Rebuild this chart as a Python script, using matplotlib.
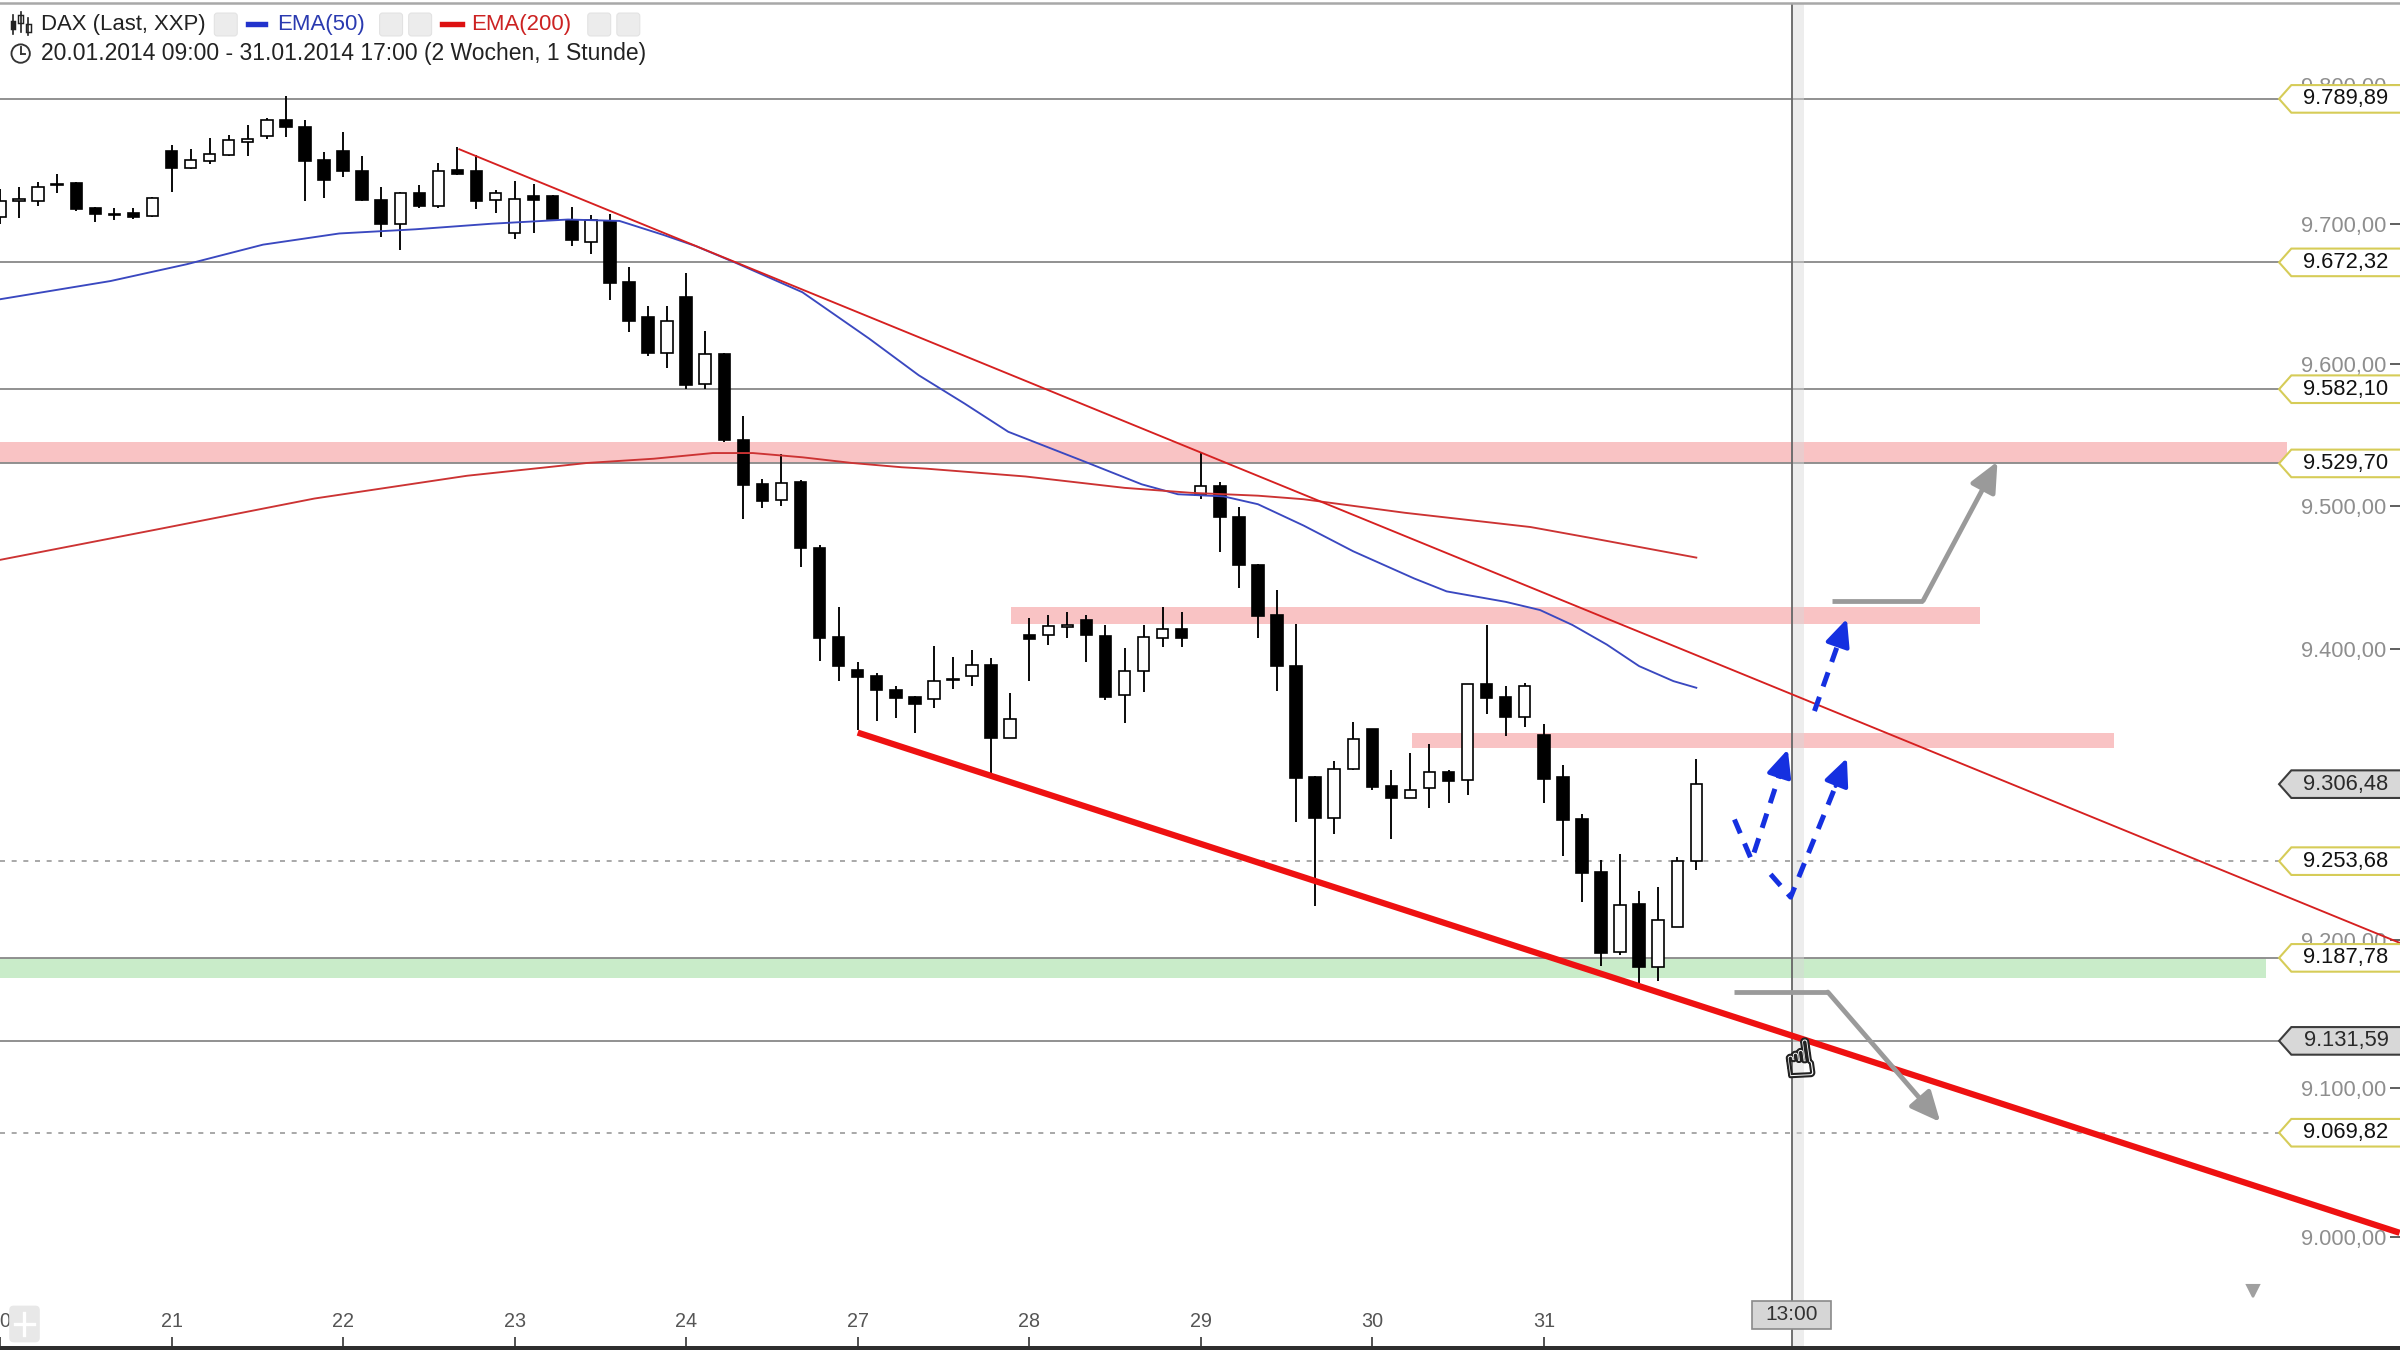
import numpy as np
import matplotlib
matplotlib.use("Agg")
import matplotlib.pyplot as plt
from matplotlib.patches import Polygon, Rectangle, FancyBboxPatch, Circle
from matplotlib.lines import Line2D
from matplotlib.transforms import blended_transform_factory
from matplotlib.ticker import FixedLocator, FuncFormatter, NullLocator
import matplotlib.patheffects as pe

plt.rcParams['font.family'] = ['Liberation Sans', 'DejaVu Sans']

# ---------------- texts ----------------
title_main = "DAX (Last, XXP)"
legend_ema50 = "EMA(50)"
legend_ema200 = "EMA(200)"
period_text = "20.01.2014 09:00 - 31.01.2014 17:00 (2 Wochen, 1 Stunde)"
cursor_label = "13:00"

# ---------------- data ----------------
day_labels = ['20', '21', '22', '23', '24', '27', '28', '29', '30', '31']
bars_per_day = 9

opens = [9705.0, 9716.6, 9716.0, 9727.5, 9729.2, 9711.3, 9706.9, 9707.8, 9705.5,
         9752.6, 9740.3, 9745.4, 9749.6, 9758.5, 9763.0, 9774.6, 9769.7, 9745.6,
         9752.6, 9738.0, 9717.1, 9699.7, 9722.2, 9712.5, 9738.4, 9737.5, 9717.1,
         9693.5, 9719.9, 9719.9, 9702.7, 9687.0, 9702.0, 9658.1, 9633.1, 9608.1,
         9647.4, 9585.6, 9607.0, 9545.9, 9515.0, 9504.0, 9516.6, 9470.3, 9408.0,
         9385.2, 9381.1, 9371.6, 9366.7, 9365.0, 9378.5, 9381.2, 9388.8, 9338.3,
         9409.4, 9409.4, 9415.0, 9420.2, 9408.7, 9368.1, 9384.9, 9407.8, 9414.0,
         9507.2, 9514.1, 9491.9, 9458.7, 9423.8, 9388.3, 9311.1, 9283.5, 9316.8,
         9344.3, 9305.3, 9297.3, 9303.7, 9314.5, 9309.2, 9375.3, 9366.6, 9352.8,
         9340.4, 9311.1, 9282.4, 9246.3, 9191.7, 9224.3, 9181.4, 9208.9, 9254.1]
highs = [9725.0, 9726.4, 9729.9, 9735.7, 9729.9, 9711.8, 9711.3, 9711.3, 9719.4,
         9756.5, 9753.7, 9761.6, 9763.5, 9770.9, 9776.2, 9792.0, 9774.6, 9751.4,
         9765.8, 9748.4, 9726.4, 9722.9, 9727.5, 9743.8, 9755.4, 9749.6, 9724.5,
         9731.0, 9728.7, 9720.5, 9712.0, 9706.5, 9706.8, 9668.8, 9641.0, 9641.0,
         9664.7, 9623.1, 9607.5, 9563.0, 9519.0, 9536.3, 9518.3, 9472.6, 9429.4,
         9390.6, 9383.5, 9374.0, 9367.5, 9402.0, 9394.0, 9399.5, 9393.3, 9369.7,
         9421.5, 9423.8, 9425.4, 9423.8, 9416.3, 9400.9, 9416.3, 9429.3, 9425.4,
         9537.0, 9516.4, 9498.8, 9459.0, 9440.8, 9417.0, 9312.2, 9322.5, 9349.6,
         9344.8, 9316.1, 9327.6, 9334.0, 9316.1, 9375.5, 9416.6, 9374.2, 9376.5,
         9348.2, 9319.8, 9285.8, 9254.8, 9258.3, 9233.0, 9235.8, 9256.4, 9323.7]
lows = [9700.0, 9704.4, 9712.9, 9721.8, 9709.0, 9700.9, 9702.7, 9703.7, 9704.8,
        9722.9, 9739.1, 9742.6, 9748.4, 9748.4, 9761.1, 9762.3, 9716.6, 9718.3,
        9733.3, 9716.6, 9690.5, 9681.2, 9711.3, 9711.3, 9735.0, 9710.2, 9707.9,
        9689.3, 9693.5, 9703.2, 9684.2, 9678.0, 9645.7, 9622.4, 9605.3, 9597.4,
        9582.5, 9582.5, 9545.1, 9490.5, 9498.3, 9500.0, 9457.2, 9391.3, 9378.0,
        9344.0, 9350.0, 9352.0, 9342.0, 9359.0, 9372.0, 9374.3, 9313.1, 9338.0,
        9378.0, 9402.5, 9407.8, 9391.0, 9364.2, 9348.6, 9370.4, 9401.4, 9401.4,
        9504.5, 9467.4, 9442.6, 9407.8, 9371.0, 9280.5, 9223.4, 9272.5, 9316.5,
        9302.3, 9268.6, 9297.0, 9290.4, 9293.2, 9299.1, 9355.1, 9339.7, 9345.9,
        9293.2, 9257.1, 9226.1, 9182.1, 9189.4, 9166.5, 9172.2, 9208.5, 9247.9]
closes = [9716.0, 9716.9, 9726.4, 9728.5, 9710.2, 9706.7, 9706.5, 9705.1, 9718.3,
          9740.3, 9745.6, 9750.0, 9760.0, 9760.8, 9774.6, 9769.3, 9745.4, 9731.5,
          9737.5, 9717.1, 9699.7, 9722.2, 9712.5, 9738.0, 9735.7, 9716.6, 9722.2,
          9717.6, 9717.1, 9703.7, 9688.1, 9702.5, 9657.3, 9630.7, 9607.7, 9630.7,
          9584.8, 9607.0, 9546.3, 9514.3, 9503.5, 9515.9, 9470.3, 9407.3, 9388.3,
          9380.4, 9371.6, 9366.2, 9362.1, 9378.0, 9378.2, 9388.8, 9338.3, 9351.4,
          9406.6, 9415.6, 9416.5, 9409.4, 9366.5, 9384.9, 9408.2, 9414.0, 9407.8,
          9513.7, 9491.9, 9458.2, 9423.1, 9388.0, 9310.7, 9283.1, 9316.8, 9337.5,
          9304.6, 9297.3, 9302.6, 9314.5, 9308.8, 9375.3, 9365.7, 9352.8, 9374.2,
          9309.9, 9281.7, 9245.6, 9191.3, 9223.8, 9181.4, 9213.5, 9253.7, 9306.48]

ema50_x = [0.0, 5.8, 9.8, 13.8, 17.8, 21.8, 25.8, 29.8, 32.5, 34.8, 36.5, 38.6,
           42.1, 45.6, 48.2, 50.6, 52.9, 56.9, 59.9, 61.8, 64.2, 66.0, 68.4, 71.0,
           74.2, 75.9, 79.0, 80.8, 82.5, 84.3, 86.0, 87.8, 89.0]
ema50_y = [9646, 9659, 9671, 9685, 9693, 9696, 9700, 9703, 9702, 9692, 9684, 9672,
           9651, 9618, 9592, 9572, 9552, 9531, 9515, 9508, 9506.5, 9501, 9486, 9468,
           9449, 9440, 9432.7, 9427, 9416.6, 9403, 9388, 9377.6, 9373]

ema200_x = [0.0, 8.5, 16.5, 24.5, 30.8, 34.3, 37.4, 39.5, 42.1, 44.7, 47.3, 48.6,
            53.8, 59.0, 62.5, 66.0, 68.4, 73.7, 80.3, 83.6, 89.0]
ema200_y = [9462, 9484, 9505, 9521, 9530, 9533, 9537, 9537, 9534, 9530, 9527, 9526,
            9520.5, 9512.5, 9509, 9507, 9504.5, 9495, 9485, 9477, 9463.6]

trend_upper_x = [24.1, 125.9]
trend_upper_y = [9753.5, 9198.0]
trend_lower_x = [45.0, 125.9]
trend_lower_y = [9342.0, 9003.0]

callout_values = [9789.89, 9672.32, 9582.10, 9529.70, 9306.48, 9253.68, 9187.78, 9131.59, 9069.82]
callout_gray = [False, False, False, False, True, False, False, True, False]
callout_line = ['-', '-', '-', '-', '', ':', '-', '-', ':']

price_ticks = [9000, 9100, 9200, 9400, 9500, 9600, 9700, 9800]

zone_x0 = [-1.0, 53.06, 74.1, -1.0]
zone_x1 = [120.0, 103.9, 110.9, 118.9]
zone_lo = [9529.7, 9417.0, 9331.3, 9173.8]
zone_hi = [9544.6, 9429.3, 9341.4, 9187.8]
zone_col = ['#f9c3c4', '#f9c3c4', '#f9c3c4', '#c9ecc9']

cursor_x = 94.0
hand_x, hand_y = 94.45, 9117.0

gray_up_x = [96.1, 100.9, 104.8]
gray_up_y = [9433.5, 9433.5, 9531.0]
gray_dn_x = [91.0, 95.9, 101.8]
gray_dn_y = [9164.6, 9164.6, 9077.0]
blue_paths_x = [[91.0, 91.9, 93.8], [92.9, 93.95, 96.9], [95.2, 96.9]]
blue_paths_y = [[9282.2, 9254.4, 9330.4], [9244.7, 9229.1, 9324.4], [9356.9, 9420.9]]


def de_fmt(v, pos=None):
    s = f"{v:,.2f}"
    return s.replace(',', 'X').replace('.', ',').replace('X', '.')


# ---------------- figure ----------------
fig = plt.figure(figsize=(16, 9), dpi=150)
fig.patch.set_facecolor('white')
ax = fig.add_axes([0, 4 / 1350, 1, (1350 - 4 - 3) / 1350])
ax.set_facecolor('white')
ax.set_yscale('log')
ax.set_xlim(0.48, 125.92)
ax.set_ylim(8928.0, 9859.5)

for s in ['left', 'right', 'bottom']:
    ax.spines[s].set_visible(False)
ax.spines['top'].set_color('#a8a8a8')
ax.spines['top'].set_linewidth(1.2)

# x ticks (days)
n = len(closes)
idx = np.arange(n)
day_pos = [k * bars_per_day for k in range(len(day_labels))]
ax.set_xticks(day_pos)
ax.set_xticklabels(day_labels)
ax.xaxis.set_minor_locator(NullLocator())
ax.tick_params(axis='x', direction='in', length=4.3, width=0.8, color='#333333',
               pad=-16.5, labelsize=9.5, labelcolor='#555555')

# y ticks (prices) on the right, labels inside
ax.yaxis.tick_right()
ax.yaxis.set_major_locator(FixedLocator(price_ticks))
ax.yaxis.set_minor_locator(NullLocator())
ax.yaxis.set_major_formatter(FuncFormatter(de_fmt))
ax.tick_params(axis='y', which='both', left=False)
ax.tick_params(axis='y', direction='in', length=5, width=0.8, color='#444444',
               pad=-6.5, labelsize=10.5, labelcolor='#8e8e8e')
plt.setp(ax.get_yticklabels(), ha='right')

trans_ax_data = blended_transform_factory(ax.transAxes, ax.transData)
trans_data_ax = blended_transform_factory(ax.transData, ax.transAxes)

# zones
for x0, x1, lo, hi, c in zip(zone_x0, zone_x1, zone_lo, zone_hi, zone_col):
    ax.fill_between([x0, x1], [lo, lo], [hi, hi], color=c, lw=0, zorder=1)

# horizontal levels
tip = 1489 / 1568
for v, ls in zip(callout_values, callout_line):
    if ls == '-':
        ax.axhline(v, xmin=0, xmax=tip, color='#8c8c8c', lw=0.9, zorder=1.5)
    elif ls == ':':
        ax.axhline(v, xmin=0, xmax=tip, color='#9a9a9a', lw=0.8,
                   linestyle=(0, (3, 4)), zorder=1.5)

# crosshair
ax.axvspan(cursor_x, cursor_x + 0.65, color='#d8d8d8', alpha=0.45, lw=0, zorder=2)
ax.axvline(cursor_x, color='#6a6a6a', lw=0.9, zorder=2.1)

# candles
o = np.array(opens); c = np.array(closes); h = np.array(highs); l = np.array(lows)
ax.vlines(idx, l, h, color='black', lw=0.9, zorder=3)
body_lo = np.minimum(o, c)
body_h = np.maximum(np.abs(c - o), 0.8)
colors = ['white' if cc >= oo else 'black' for oo, cc in zip(o, c)]
ax.bar(idx, body_h, bottom=body_lo, width=0.6, color=colors, edgecolor='black',
       linewidth=0.8, zorder=4)

# EMAs
ax.plot(ema50_x, ema50_y, color='#3a48c0', lw=0.9, zorder=5)
ax.plot(ema200_x, ema200_y, color='#cc3333', lw=0.9, zorder=5)

# trend lines
ax.plot(trend_upper_x, trend_upper_y, color='#d62020', lw=0.9, zorder=5)
ax.plot(trend_lower_x, trend_lower_y, color='#ee1111', lw=3.0, zorder=5,
        solid_capstyle='butt')

# gray scenario arrows
for xs, ys in [(gray_up_x, gray_up_y), (gray_dn_x, gray_dn_y)]:
    ax.plot(xs[:2], ys[:2], color='#9a9a9a', lw=2.3, zorder=6, solid_capstyle='butt')
    ax.annotate('', xy=(xs[2], ys[2]), xytext=(xs[1], ys[1]),
                arrowprops=dict(arrowstyle='-|>,head_length=1.2,head_width=0.55',
                                color='#9a9a9a', lw=2.3, shrinkA=0, shrinkB=0),
                zorder=6)

# blue dashed arrows
for xs, ys in zip(blue_paths_x, blue_paths_y):
    fx = xs[-2] + 0.8 * (xs[-1] - xs[-2])
    fy = ys[-2] * (ys[-1] / ys[-2]) ** 0.8
    ax.plot(list(xs[:-1]) + [fx], list(ys[:-1]) + [fy], color='#1530e0', lw=2.4,
            linestyle=(0, (3.0, 2.2)), zorder=6, solid_capstyle='butt')
    ax.annotate('', xy=(xs[-1], ys[-1]), xytext=(fx, fy),
                arrowprops=dict(arrowstyle='-|>,head_length=1.1,head_width=0.5',
                                color='#1530e0', lw=2.0, shrinkA=0, shrinkB=0),
                zorder=6)

# hand cursor
ax.text(hand_x, hand_y, '\u261D', fontsize=24, color='white', ha='center',
        va='center', rotation=8, family='DejaVu Sans', zorder=8,
        path_effects=[pe.withStroke(linewidth=2.0, foreground='#222222')])

# callouts on the right
hh = 0.00102
x_tip, x_sh, x_r = tip, 1497 / 1568, 1.01
for v, gray in zip(callout_values, callout_gray):
    verts = [(x_tip, v), (x_sh, v * (1 + hh)), (x_r, v * (1 + hh)),
             (x_r, v * (1 - hh)), (x_sh, v * (1 - hh))]
    fc = '#d8d8d8' if gray else 'white'
    ec = '#3c3c3c' if gray else '#d6cc58'
    poly = Polygon(verts, closed=True, fc=fc, ec=ec, lw=1.0,
                   transform=trans_ax_data, zorder=9, clip_on=False)
    ax.add_patch(poly)
    ax.text(0.9775, v, de_fmt(v), transform=trans_ax_data, ha='center',
            va='center', fontsize=10.5, color='#111111' if not gray else '#2a2a2a',
            zorder=10, clip_on=False)

# cursor time label
ax.add_patch(Rectangle((cursor_x - 2.08, 0.013), 4.16, 0.0205, transform=trans_data_ax,
                       fc='#d6d6d6', ec='#8a8a8a', lw=0.8, zorder=9))
ax.text(cursor_x, 0.0235, cursor_label, transform=trans_data_ax, ha='center',
        va='center', fontsize=10, color='#333333', zorder=10)

# small scroll marker bottom right
ax.plot([118.2], [0.041], marker='v', color='#a0a0a0', ms=6, transform=trans_data_ax,
        zorder=9, clip_on=False)

# ---------------- header & frame decorations (figure inches) ----------------
def pin(x, y):
    return x * 16 / 1568, (882 - y) * 9 / 882

T = fig.dpi_scale_trans

# candle icon
for cx, wt, wb, bt, bb, filled in [(8.5, 10, 22, 14, 19, True), (13.5, 8, 21, 10, 15, False),
                                   (18.5, 12, 23, 16, 21, False)]:
    x0, y0 = pin(cx, wt); _, y1 = pin(cx, wb)
    fig.add_artist(Line2D([x0, x0], [y0, y1], color='#222222', lw=0.8, transform=T))
    bx, by = pin(cx - 1.6, bb)
    fig.add_artist(Rectangle((bx, by), 3.2 * 16 / 1568, (bb - bt) * 9 / 882,
                             fc='#222222' if filled else 'white', ec='#222222', lw=0.7,
                             transform=T))

x, y = pin(27, 16)
fig.text(x, y, title_main, transform=T, fontsize=10.6, color='#222222', va='center', ha='left')
for bx in [140, 248, 267, 384, 403]:
    px, py = pin(bx, 23.5)
    fig.add_artist(FancyBboxPatch((px, py), 15 * 16 / 1568, 15 * 9 / 882,
                                  boxstyle='round,pad=0,rounding_size=0.02',
                                  fc='#ececec', ec='#e2e2e2', lw=0.5, transform=T))
x0, y0 = pin(162, 16); x1, _ = pin(173, 16)
fig.add_artist(Line2D([x0, x1], [y0, y0], color='#2233cc', lw=2.6, transform=T))
x, y = pin(181, 16)
fig.text(x, y, legend_ema50, transform=T, fontsize=10.6, color='#2a3ab0', va='center', ha='left')
x0, y0 = pin(289, 16); x1, _ = pin(302, 16)
fig.add_artist(Line2D([x0, x1], [y0, y0], color='#dd1111', lw=2.6, transform=T))
x, y = pin(308, 16)
fig.text(x, y, legend_ema200, transform=T, fontsize=10.6, color='#cc2222', va='center', ha='left')

# clock icon
cx, cy = pin(13.5, 35)
fig.add_artist(Circle((cx, cy), 6 * 16 / 1568, fc='none', ec='#333333', lw=0.9, transform=T))
hx, hy = pin(13.5, 31)
fig.add_artist(Line2D([cx, cx], [cy, hy], color='#333333', lw=0.9, transform=T))
hx2, _ = pin(16.5, 35)
fig.add_artist(Line2D([cx, hx2], [cy, cy], color='#333333', lw=0.9, transform=T))
x, y = pin(27, 35)
fig.text(x, y, period_text, transform=T, fontsize=11.0, color='#222222', va='center', ha='left')

# bottom-left scroll button with white plus (to the right of the cut "20" label)
bx, by = pin(6, 877)
fig.add_artist(FancyBboxPatch((bx, by), 20 * 16 / 1568, 24 * 9 / 882,
                              boxstyle='round,pad=0,rounding_size=0.03',
                              fc='#e8e8e8', ec='none', transform=T, zorder=3))
px0, py0 = pin(10, 865); px1, _ = pin(22, 865)
fig.add_artist(Line2D([px0, px1], [py0, py0], color='white', lw=1.6, transform=T, zorder=3.1))
qx, qy0 = pin(16, 858); _, qy1 = pin(16, 872)
fig.add_artist(Line2D([qx, qx], [qy0, qy1], color='white', lw=1.6, transform=T, zorder=3.1))

# bottom dark frame bar
fig.add_artist(Rectangle((0, 0), 1, 4 / 1350, fc='#2e2e2e', ec='none',
                         transform=fig.transFigure, zorder=3))

fig.savefig('out.png', dpi=150, facecolor='white')
